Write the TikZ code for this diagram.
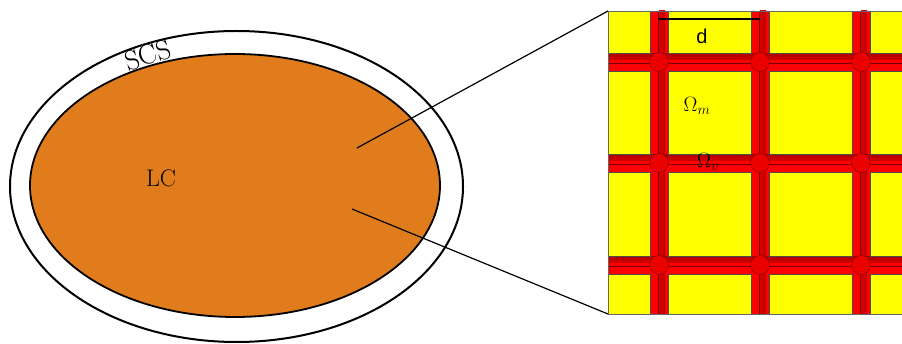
\documentclass[tikz,border=0pt]{standalone}
\usepackage{fontspec}
\setsansfont{Liberation Sans}
\definecolor{lcorange}{RGB}{224,124,28}
\definecolor{cellyellow}{RGB}{255,255,0}
\definecolor{barred}{RGB}{255,0,0}
\definecolor{bardark}{RGB}{215,0,0}
\definecolor{nodered}{RGB}{235,0,0}
\tikzset{
  shell/.style={draw=black, line width=2pt, fill=white},
  core/.style={draw=black, line width=1.8pt, fill=lcorange},
  zoomline/.style={draw=black, line width=1.2pt},
  cell/.style={fill=cellyellow, draw=black!70, line width=0.5pt},
  junction/.style={circle, fill=nodered, draw=red!55!black, line width=0.5pt, minimum size=19pt, inner sep=0pt},
  lbl/.style={inner sep=0pt}
}
\begin{document}
\begin{tikzpicture}[x=1pt,y=-1pt]
\useasboundingbox (0,0) rectangle (902,344);
\fill[white] (0,0) rectangle (902,344);
% ellipses
\draw[shell] (236.5,186.5) ellipse [x radius=226.5, y radius=155.5];
\draw[core] (235,185.5) ellipse [x radius=205, y radius=131.5];
\node[lbl, font=\fontsize{28}{30}\selectfont, rotate=17] (scs) at (148,55) {SCS};
\node[lbl, font=\fontsize{24}{26}\selectfont] (lc) at (161,178) {LC};
% zoom panel
\coordinate (pTL) at (608,11);
\coordinate (pBL) at (608,314);
\coordinate (p1) at (357,148);
\coordinate (p2) at (352,209);
\draw[zoomline] (p1) -- (pTL);
\draw[zoomline] (p2) -- (pBL);
\begin{scope}
\clip (608,11) rectangle (902,314);
\fill[barred] (608,11) rectangle (902,314);
% bars shading
\foreach \xc in {659,760,861}{
  \shade[left color=bardark, right color=red!75!black] (\xc,11) rectangle (\xc+6,314);
  \draw[red!45!black, line width=0.3pt] (\xc-1,11) -- (\xc-1,314);
}
\foreach \yc in {62,163,265}{
  \shade[top color=red!70!black, bottom color=bardark] (608,\yc-8) rectangle (902,\yc-2);
  \draw[red!45!black, line width=0.3pt] (608,\yc+1) -- (902,\yc+1);
}
% cells
\foreach \xa/\xb in {608/650,668/751,769/852,870/910}{
  \foreach \ya/\yb in {11/53,71/154,172/256,274/314}{
    \draw[cell] (\xa,\ya) rectangle (\xb,\yb);
  }
}
\foreach \xc in {659,760,861}{
  \foreach \yc in {62,163,265}{
    \node[junction] at (\xc,\yc) {};
  }
}
\end{scope}
\draw[black!60, line width=0.6pt] (pTL) rectangle (902,314);
% labels
\coordinate (dA) at (659,19);
\coordinate (dB) at (760,19);
\draw[black, line width=1.3pt] (dA) -- (dB);
\node[lbl, font=\sffamily\fontsize{20}{22}\selectfont] (d) at (702,36) {d};
\node[lbl, font=\fontsize{22}{24}\selectfont] (om) at (697,106) {$\Omega_m$};
\node[lbl, font=\fontsize{22}{24}\selectfont] (ov) at (708,162) {$\Omega_v$};
\end{tikzpicture}
\end{document}
